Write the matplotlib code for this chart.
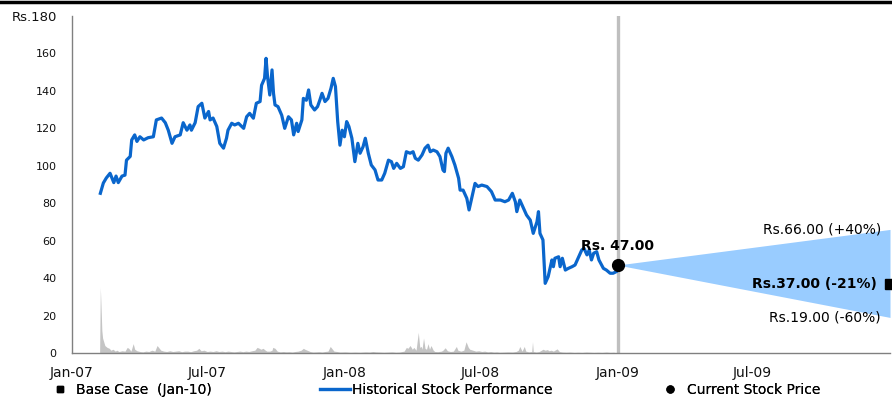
"""
Stock price history with one-year target range (base / bull / bear).
Saves out.png, 892x400.
"""

import matplotlib
matplotlib.use("Agg")
import matplotlib.pyplot as plt
from matplotlib.lines import Line2D
from matplotlib.ticker import FuncFormatter
import pandas as pd

plt.rcParams["font.family"] = ["DejaVu Sans"]

# DATA
START = pd.Timestamp("2007-01-01")

# historical price (days after 1 Jan 2007, Rs.)
price_days = [38, 42, 46, 51, 56, 59, 62, 67, 71, 73, 78, 80, 84, 87, 91, 96, 102, 109,
              113, 120, 125, 129, 134, 138, 145, 149, 154, 158, 160, 165, 169, 174, 178,
              183, 185, 189, 194, 198, 203, 207, 209, 214, 218, 223, 230, 234, 238, 243,
              247, 252, 254, 258, 260, 262, 265, 268, 270, 272, 276, 281, 285, 290, 294,
              297, 301, 303, 308, 310, 314, 317, 320, 325, 329, 332, 335, 339, 343, 347,
              350, 353, 356, 359, 362, 365, 368, 371, 375, 379, 383, 386, 390, 393, 397,
              401, 406, 410, 415, 419, 424, 428, 431, 435, 440, 444, 448, 453, 457, 460,
              464, 469, 473, 477, 480, 484, 489, 493, 497, 499, 501, 504, 509, 513, 518,
              520, 524, 529, 532, 536, 540, 544, 549, 556, 562, 567, 574, 580, 585, 590,
              594, 596, 600, 605, 609, 614, 618, 623, 625, 627, 631, 634, 638, 643, 645,
              647, 652, 654, 657, 661, 665, 670, 674, 678, 683, 686, 690, 693, 696, 699,
              703, 706, 712, 716, 721, 725, 729]
price_vals = [85.3, 90.8, 93.5, 96.0, 91.0, 94.5, 91.0, 94.5, 95.0, 103.0, 105.0, 113.8,
              116.5, 113.0, 115.5, 113.8, 115.0, 115.5, 124.5, 125.5, 123.0, 119.0, 112.0,
              115.5, 116.5, 123.0, 119.0, 121.8, 119.0, 123.0, 131.6, 133.4, 125.5, 129.0,
              124.5, 125.5, 121.0, 112.0, 109.4, 114.7, 119.0, 122.7, 121.8, 122.7, 120.0,
              126.2, 128.0, 125.4, 133.4, 134.3, 143.0, 146.7, 157.4, 147.6, 137.8, 151.2,
              138.7, 132.5, 131.6, 127.0, 120.0, 126.2, 124.5, 116.5, 122.7, 118.3, 124.5,
              136.0, 135.0, 140.5, 132.5, 129.8, 131.6, 135.0, 138.7, 134.3, 136.0, 141.4,
              146.7, 142.3, 123.6, 111.0, 119.0, 115.5, 123.6, 121.0, 114.7, 102.2, 112.0,
              106.7, 110.2, 114.7, 106.7, 100.4, 97.8, 92.4, 92.4, 96.0, 103.0, 102.2, 98.6,
              101.3, 98.6, 99.5, 107.5, 106.7, 107.5, 104.0, 103.0, 105.8, 109.4, 111.0,
              107.5, 108.4, 107.5, 104.9, 97.8, 96.9, 106.7, 109.4, 104.9, 100.4, 93.3,
              87.0, 87.0, 82.6, 76.4, 83.5, 90.6, 88.9, 89.7, 88.9, 86.2, 81.7, 81.7, 80.8,
              81.7, 85.3, 80.8, 75.5, 81.7, 77.3, 73.7, 71.0, 63.9, 70.1, 75.5, 63.9, 60.4,
              37.2, 40.8, 49.7, 46.1, 50.6, 51.4, 46.1, 50.6, 44.3, 45.2, 46.1, 47.0, 50.6,
              55.0, 55.9, 52.4, 55.0, 49.7, 53.3, 54.1, 49.7, 45.2, 44.3, 42.6, 42.6, 43.4]

# traded volume, shown on the price scale
vol_days = [37, 38, 40, 41, 44, 47, 50, 52, 55, 58, 60, 63, 67, 71, 74, 76, 79, 82, 84,
            87, 91, 95, 99, 103, 107, 111, 114, 117, 119, 123, 127, 131, 135, 139, 143,
            147, 151, 155, 159, 163, 167, 170, 173, 177, 181, 185, 189, 193, 197, 201,
            205, 209, 213, 217, 221, 225, 229, 233, 237, 241, 245, 248, 251, 253, 256,
            259, 261, 265, 268, 269, 272, 275, 279, 283, 287, 291, 295, 299, 303, 307,
            310, 312, 315, 319, 323, 327, 331, 335, 339, 343, 346, 349, 351, 355, 359,
            366, 373, 379, 386, 393, 399, 403, 407, 413, 418, 423, 429, 434, 439, 445,
            448, 450, 453, 456, 458, 461, 464, 466, 468, 469, 471, 473, 475, 477, 479,
            481, 484, 486, 490, 495, 497, 500, 503, 507, 511, 515, 517, 521, 525, 528,
            531, 533, 537, 541, 545, 549, 553, 557, 561, 565, 569, 573, 579, 584, 590,
            595, 598, 600, 603, 606, 608, 612, 616, 617, 618, 622, 626, 629, 631, 634,
            637, 639, 642, 645, 647, 650, 653, 657, 662, 667, 673, 678, 683, 689, 694,
            699, 705, 710, 716, 721, 726, 729]
vol_vals = [0, 35, 12, 8, 4, 3, 2.5, 1.5, 2, 1, 1.5, 0.8, 1.2, 1, 3, 2.5, 1, 5, 2,
            1.2, 0.8, 0.6, 1, 0.8, 1.5, 1, 4, 2.5, 1.5, 1, 0.8, 1.2, 0.8, 1, 1.2,
            0.7, 1, 1, 0.7, 1.2, 1.5, 2.5, 1.2, 1.5, 0.8, 1, 0.8, 1.2, 0.8, 1,
            0.7, 1, 0.8, 0.6, 0.8, 1, 0.7, 1, 0.8, 1.2, 1.5, 3, 2.5, 2, 2.5,
            1.5, 1, 1, 1.5, 3, 2.5, 1, 0.6, 0.8, 0.6, 0.7, 0.5, 0.8, 1, 1.5,
            2.5, 2, 1.5, 0.8, 0.5, 0.6, 0.7, 0.5, 0.8, 1, 3.5, 2, 1, 0.8, 0.5,
            0.6, 0.4, 0.5, 0.4, 0.6, 0.5, 0.8, 0.6, 0.5, 0.4, 0.5, 0.6, 0.4, 0.5, 1,
            3, 2.5, 4, 2, 3, 1.5, 11, 3, 3.5, 2, 8, 2.5, 2, 5, 2,
            4, 1.5, 0.8, 0.7, 1, 1.5, 2.8, 1.2, 0.8, 1, 3.5, 1.5, 1, 1.5, 6,
            3, 2, 1.5, 1, 1.2, 0.8, 1, 0.6, 0.8, 0.5, 0.6, 0.4, 0.5, 0.6, 0.5,
            0.8, 1.5, 3.5, 1, 3.5, 1, 0.6, 0.8, 6, 0.8, 0.5, 0.8, 1.5, 2, 1.5,
            1.8, 1.2, 1.5, 1, 1.5, 2.2, 0.8, 0.5, 0.4, 0.5, 0.3, 0.4, 0.3, 0.5, 0.4,
            0.3, 0.4, 0.3, 0.5, 0.3, 0.4, 0]

current_date  = "2009-01-01"
current_price = 47.00
target_date   = "2010-01-01"
target_high   = 66.00
target_base   = 37.00
target_low    = 19.00

tick_dates  = ["2007-01-01", "2007-07-01", "2008-01-01", "2008-07-01", "2009-01-01", "2009-07-01"]
tick_labels = ["Jan-07", "Jul-07", "Jan-08", "Jul-08", "Jan-09", "Jul-09"]
y_ticks     = [0, 20, 40, 60, 80, 100, 120, 140, 160, 180]

# STYLE
BLUE      = "#0A66CC"
FAN_BLUE  = "#99CCFF"
GREY_AREA = "#C4C4C4"
GREY_LINE = "#BFBFBF"
SPINE     = "#808080"
FS        = 10     # general text
FS_Y      = 8      # y tick numbers

price_dates = START + pd.to_timedelta(price_days, unit="D")
vol_dates   = START + pd.to_timedelta(vol_days, unit="D")
cur  = pd.Timestamp(current_date)
tgt  = pd.Timestamp(target_date)
pct  = lambda v: (v / current_price - 1) * 100

fig = plt.figure(figsize=(8.92, 4.0), dpi=100)
ax  = fig.add_axes([72 / 892, 47 / 400, 818 / 892, 337 / 400])

# ── volume + price ──
ax.fill_between(vol_dates, vol_vals, color=GREY_AREA, lw=0, zorder=1)
ax.axvline(cur, color=GREY_LINE, lw=2.4, zorder=1)
ax.plot(price_dates, price_vals, color=BLUE, lw=2.3, solid_joinstyle="round", zorder=3)

# ── target fan ──
ax.fill_between([cur, tgt], [current_price, target_low], [current_price, target_high],
                color=FAN_BLUE, lw=0, zorder=2)
ax.plot(cur, current_price, "o", color="black", ms=8.5, zorder=5)
ax.plot(tgt, target_base, "s", color="black", ms=6.5, zorder=5, clip_on=False)

ax.annotate(f"Rs. {current_price:.2f}", xy=(cur, current_price), xytext=(0, 14),
            textcoords="offset points", ha="center", va="center",
            fontsize=FS, fontweight="bold")
ax.annotate(f"Rs.{target_high:.2f} (+{pct(target_high):.0f}%)", xy=(tgt, target_high),
            xytext=(-6.5, 0), textcoords="offset points", ha="right", va="center", fontsize=FS)
ax.annotate(f"Rs.{target_base:.2f} ({pct(target_base):.0f}%)", xy=(tgt, target_base),
            xytext=(-9.5, 0), textcoords="offset points", ha="right", va="center",
            fontsize=FS, fontweight="bold")
ax.annotate(f"Rs.{target_low:.2f} ({pct(target_low):.0f}%)", xy=(tgt, target_low),
            xytext=(-7, 0), textcoords="offset points", ha="right", va="center", fontsize=FS)

# ── axes ──
ax.set_xlim(START, tgt)
ax.set_ylim(0, 180)
ax.set_xticks(pd.to_datetime(tick_dates))
ax.set_xticklabels(tick_labels)
ax.set_yticks(y_ticks)
ax.yaxis.set_major_formatter(FuncFormatter(
    lambda v, _: f"Rs.{v:.0f}" if v == y_ticks[-1] else f"{v:.0f}"))
ax.tick_params(length=0, colors="#111111")
ax.tick_params(axis="x", pad=9, labelsize=FS)
ax.tick_params(axis="y", pad=11, labelsize=FS_Y)
ax.get_yticklabels()[-1].set_fontsize(FS_Y + 1.5)
for side in ["top", "right"]:
    ax.spines[side].set_visible(False)
for side in ["left", "bottom"]:
    ax.spines[side].set_color(SPINE)
    ax.spines[side].set_linewidth(1)

# ── top rule ──
fig.add_artist(Line2D([0, 1], [0.996, 0.996], color="black", lw=2.5,
                      transform=fig.transFigure))

# ── legend (three separate entries along the bottom) ──
leg_y = 0.025
entries = [
    (Line2D([], [], marker="s", ls="none", color="black", ms=4.5),
     "Base Case  (Jan-10)", 54.4, 0.8, 0.75),
    (Line2D([], [], color=BLUE, lw=2.3),
     "Historical Stock Performance", 320, 2.16, 0.15),
    (Line2D([], [], marker="o", ls="none", color="black", ms=5),
     "Current Stock Price", 664.4, 0.8, 0.83),
]
for handle, label, x_px, hlen, hpad in entries:
    leg = fig.legend([handle], [label], loc="center left",
                     bbox_to_anchor=(x_px / 892, leg_y), frameon=False,
                     fontsize=FS, borderpad=0, borderaxespad=0,
                     handlelength=hlen, handletextpad=hpad)
    fig.add_artist(leg)

fig.savefig("out.png", dpi=100)
plt.close(fig)
